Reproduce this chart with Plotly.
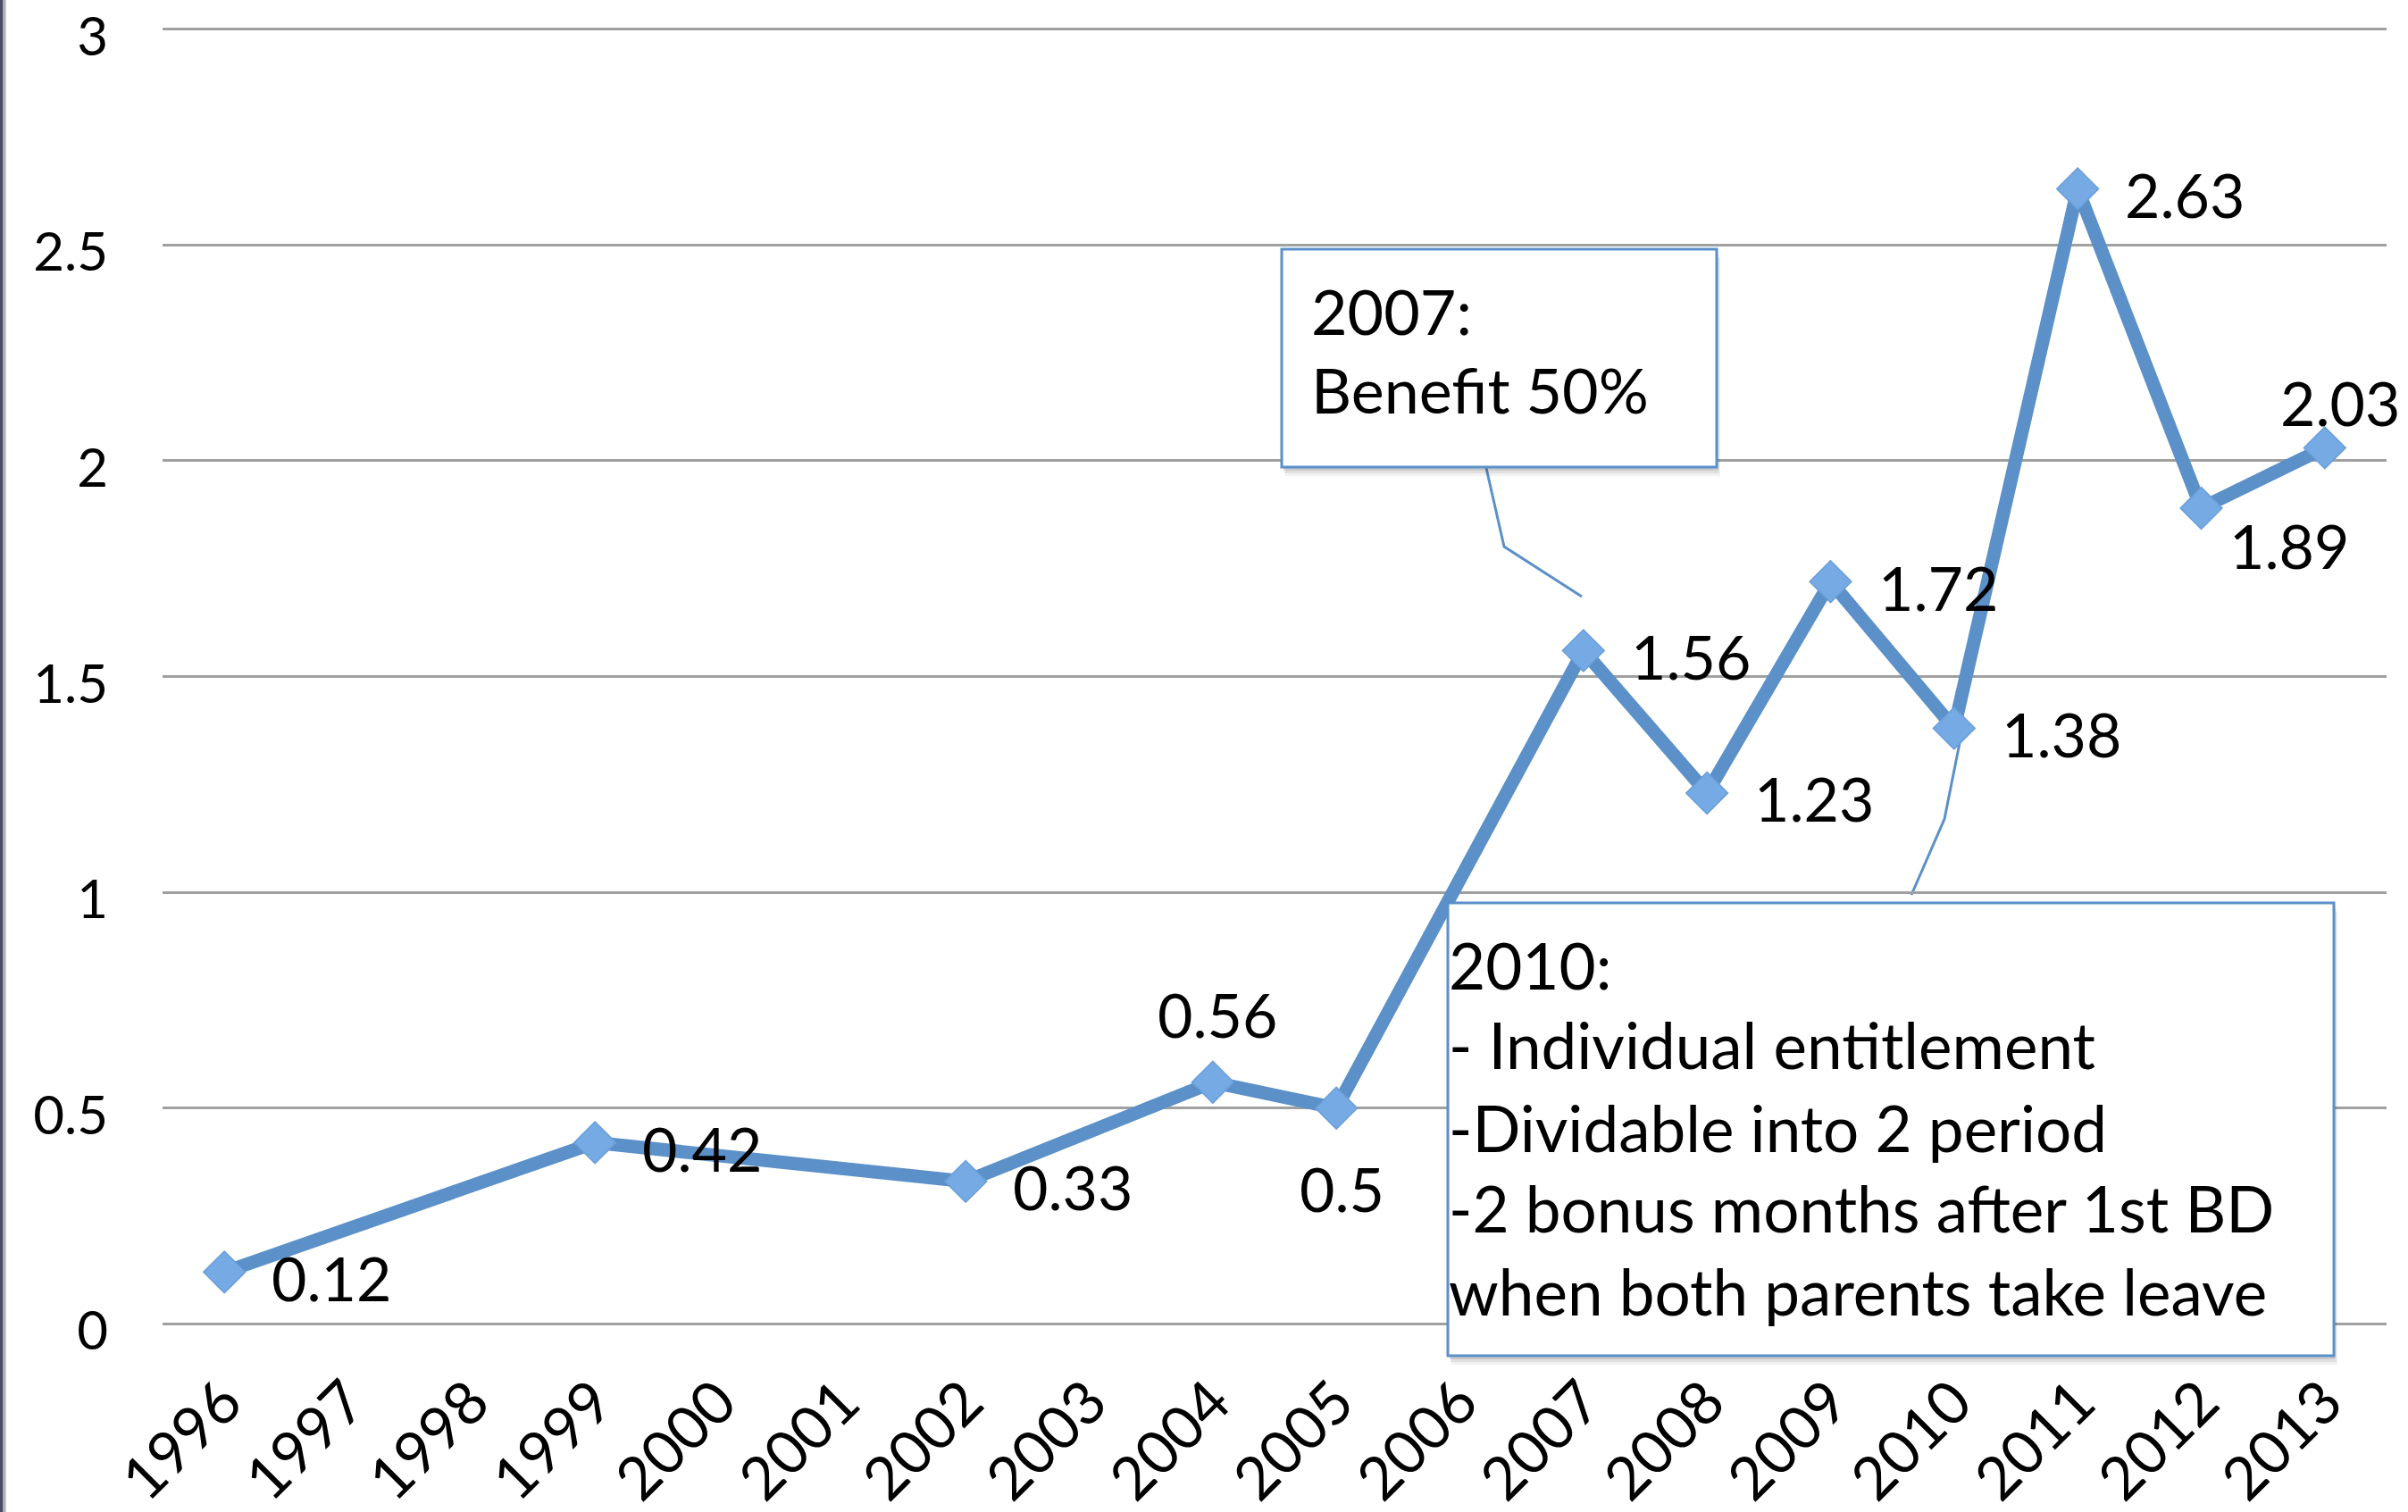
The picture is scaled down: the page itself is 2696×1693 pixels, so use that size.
import plotly.graph_objects as go

# Fathers' share of parental leave days, by year (gaps = no observation)
years = ["1996", "1997", "1998", "1999", "2000", "2001", "2002", "2003", "2004",
         "2005", "2006", "2007", "2008", "2009", "2010", "2011", "2012", "2013"]
share = [0.12, None, None, 0.42, None, None, 0.33, None, 0.56,
         0.5, None, 1.56, 1.23, 1.72, 1.38, 2.63, 1.89, 2.03]
y_ticks = [0, 0.5, 1, 1.5, 2, 2.5, 3]
y_tick_text = ["0", "0.5", "1", "1.5", "2", "2.5", "3"]

note_2007 = ["2007:", "Benefit 50%"]
note_2010 = ["2010:",
             "- Individual entitlement",
             "-Dividable into 2 period",
             "-2 bonus months after 1st BD",
             "when both parents take leave"]

# Value label placement: (xanchor, xshift px, yshift px)
RIGHT = ("left", 51, -6)
label_place = {
    "1996": RIGHT, "1999": RIGHT, "2002": RIGHT,
    "2004": ("center", 5, 76),
    "2005": ("center", 6, -90),
    "2007": RIGHT, "2008": RIGHT, "2009": RIGHT, "2010": RIGHT, "2011": RIGHT,
    "2012": ("left", 29, -41),
    "2013": ("center", 17, 51),
}

W, H = 2696, 1693
L, R, T, B = 182, 24, 23, 201
PW, PH = W - L - R, H - T - B
FONT = "Lato, 'Open Sans', sans-serif"
BLUE = "#5B90C8"


def px(x):
    return (x - L) / PW


def py(y):
    return (H - B - y) / PH


fig = go.Figure()
fig.add_trace(go.Scatter(
    x=years, y=share, mode="lines+markers", connectgaps=True,
    line=dict(color=BLUE, width=15),
    marker=dict(symbol="diamond", size=36, color="#76AAE5",
                line=dict(width=1.5, color="#6A9ED8")),
    hoverinfo="skip", showlegend=False, cliponaxis=False,
))

annotations = []
for i, (yr, v) in enumerate(zip(years, share)):
    if v is None:
        continue
    xa, dx, dy = label_place[yr]
    annotations.append(dict(
        x=i, y=v, xref="x", yref="y", text=f"{v:g}", showarrow=False,
        xanchor=xa, yanchor="middle", xshift=dx, yshift=dy,
        font=dict(family=FONT, size=68, color="black"),
    ))

# Callout text, one line per annotation for exact line spacing
for txt, cy in zip(note_2007, [348, 436]):
    annotations.append(dict(
        x=px(1466), y=py(cy), xref="paper", yref="paper", text=txt,
        showarrow=False, xanchor="left", yanchor="middle",
        font=dict(family=FONT, size=70, color="black"),
    ))
for txt, cy in zip(note_2010, [1080, 1169, 1262, 1352, 1445]):
    annotations.append(dict(
        x=px(1620), y=py(cy), xref="paper", yref="paper", text=txt,
        showarrow=False, xanchor="left", yanchor="middle",
        font=dict(family=FONT, size=71, color="black"),
    ))

shapes = []
# Left frame edge
shapes.append(dict(type="line", xref="paper", yref="paper",
                   x0=px(1.5), x1=px(1.5), y0=py(0), y1=py(H),
                   line=dict(color="#4B4B63", width=4)))
shapes.append(dict(type="line", xref="paper", yref="paper",
                   x0=px(5), x1=px(5), y0=py(0), y1=py(H),
                   line=dict(color="#B0B0B0", width=3)))

# Leader lines from callouts to their points
for pts in ([(1664, 524), (1684, 612), (1771, 668)],
            [(2195, 827), (2177, 917), (2140, 1002)]):
    path = "M " + " L ".join(f"{px(a)},{py(b)}" for a, b in pts)
    shapes.append(dict(type="path", xref="paper", yref="paper", path=path,
                       line=dict(color=BLUE, width=3), layer="between"))

# Callout boxes with a soft drop shadow
for (x0, y0, x1, y1) in [(1435, 279, 1922, 523), (1621, 1011, 2613, 1518)]:
    for k, a in [(10, 0.05), (7, 0.07), (4, 0.09)]:
        shapes.append(dict(type="rect", xref="paper", yref="paper",
                           x0=px(x0 + k * 0.4), x1=px(x1 + k * 0.4),
                           y0=py(y1 + k), y1=py(y0 + k),
                           fillcolor=f"rgba(0,0,0,{a})", line=dict(width=0),
                           layer="above"))
    shapes.append(dict(type="rect", xref="paper", yref="paper",
                       x0=px(x0), x1=px(x1), y0=py(y1), y1=py(y0),
                       fillcolor="white", line=dict(color=BLUE, width=3),
                       layer="above"))

fig.update_layout(
    width=W, height=H,
    margin=dict(l=L, r=R, t=T, b=B, pad=0, autoexpand=False),
    paper_bgcolor="white", plot_bgcolor="white",
    font=dict(family=FONT, color="black"),
    annotations=annotations, shapes=shapes,
    xaxis=dict(
        type="category", categoryorder="array", categoryarray=years,
        range=[-0.5, len(years) - 0.5], showgrid=False, zeroline=False,
        showline=False, ticks="", tickangle=-45, ticklabelstandoff=24,
        tickfont=dict(family=FONT, size=67, color="black"),
        automargin=False, ticklabeloverflow="allow",
    ),
    yaxis=dict(
        range=[-0.02, 3.02], tickvals=y_ticks, ticktext=y_tick_text,
        showgrid=True, gridcolor="#A0A0A0", gridwidth=3,
        zeroline=False, showline=False, ticks="", ticklabelstandoff=60,
        ticklabelshift=8,
        tickfont=dict(family=FONT, size=60, color="black"),
        automargin=False, ticklabeloverflow="allow",
    ),
)

fig.write_html("out.html")
